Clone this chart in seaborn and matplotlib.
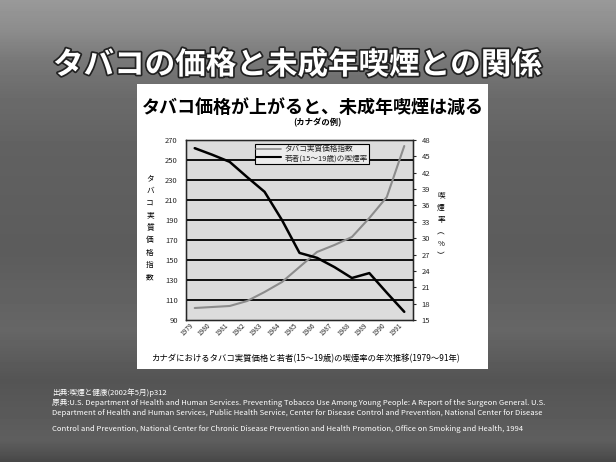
import numpy as np
import pandas as pd
import matplotlib
matplotlib.use("Agg")
import matplotlib.pyplot as plt
import matplotlib.patheffects as pe
from matplotlib.patches import Rectangle
from matplotlib.lines import Line2D
import seaborn as sns

# ---- data ----
years = ["1979", "1980", "1981", "1982", "1983", "1984", "1985",
         "1986", "1987", "1988", "1989", "1990", "1991"]
price_index = [102, 103, 104, 109, 118, 128, 143, 158, 165, 173, 192, 213, 264]
smoking_rate = [46.5, 45.3, 44.0, 41.2, 38.5, 33.3, 27.3, 26.4, 24.7, 22.7, 23.6, 20.0, 16.5]
left_ticks = [90, 110, 130, 150, 170, 190, 210, 230, 250, 270]
right_ticks = [15, 18, 21, 24, 27, 30, 33, 36, 39, 42, 45, 48]

slide_title = "タバコの価格と未成年喫煙との関係"
chart_title = "タバコ価格が上がると、未成年喫煙は減る"
chart_sub = "(カナダの例)"
legend_labels = ["タバコ実質価格指数", "若者(15～19歳)の喫煙率"]
left_label = "タバコ実質価格指数"
right_label = "喫煙率︵%︶"
caption = "カナダにおけるタバコ実質価格と若者(15～19歳)の喫煙率の年次推移(1979～91年)"
source_lines = [
    "出典:喫煙と健康(2002年5月)p312",
    "原典:U.S. Department of Health and Human Services. Preventing Tobacco Use Among Young People: A Report of the Surgeon General. U.S.",
    "Department of Health and Human Services, Public Health Service, Center for Disease Control and Prevention, National Center for Disease",
    "Control and Prevention, National Center for Chronic Disease Prevention and Health Promotion, Office on Smoking and Health, 1994",
]

df = pd.DataFrame({"x": np.arange(len(years)), "year": years,
                   "price": price_index, "rate": smoking_rate})

sns.set_style("white")
plt.rcParams["font.family"] = ["Noto Sans CJK JP", "DejaVu Sans"]

W, H = 616, 462
fig = plt.figure(figsize=(W / 100, H / 100), dpi=100)

def fx(px):
    return px / W

def fy(py):
    return 1 - py / H

# background gradient
bg = fig.add_axes([0, 0, 1, 1], zorder=-10)
stops_y = [0, 30, 60, 95, 150, 250, 330, 380, 440, 462]
stops_v = [0.60, 0.55, 0.47, 0.42, 0.38, 0.36, 0.40, 0.33, 0.37, 0.28]
col = np.interp(np.arange(H), stops_y, stops_v)
img = np.repeat(col[:, None], W, axis=1)
bg.imshow(img, cmap="gray", vmin=0, vmax=1, aspect="auto", extent=[0, W, H, 0])
bg.set_axis_off()

# white panel
fig.patches.append(Rectangle((fx(137), fy(369)), fx(488) - fx(137), fy(84) - fy(369),
                             transform=fig.transFigure, facecolor="white",
                             edgecolor="none", zorder=-5))

# slide title
fig.text(fx(297), fy(65), slide_title, ha="center", va="center", fontsize=22,
         fontweight="bold", color="white",
         path_effects=[pe.withStroke(linewidth=2.5, foreground="#222222")])

# chart titles
fig.text(fx(313), fy(107), chart_title, ha="center", va="center", fontsize=13,
         fontweight="bold", color="black")
fig.text(fx(317), fy(123), chart_sub, ha="center", va="center", fontsize=6,
         fontweight="bold", color="black")

# plot
ax = fig.add_axes([fx(186), fy(320), fx(413) - fx(186), fy(140) - fy(320)])
ax.set_facecolor("#dcdcdc")
sns.lineplot(data=df, x="x", y="price", ax=ax, color="#8c8c8c", linewidth=1.5)
ax.set_ylim(90, 270)
ax.set_xlim(-0.5, len(years) - 0.5)
ax.set_yticks(left_ticks)
ax.set_yticklabels([str(t) for t in left_ticks], fontsize=5.5)
ax.set_xticks(np.arange(len(years)))
ax.set_xticklabels(years, rotation=45, ha="right", fontsize=4.8)
ax.set_xlabel("")
ax.set_ylabel("")
for t in left_ticks[1:-1]:
    ax.axhline(t, color="black", linewidth=1.3, zorder=0.5)
for s in ax.spines.values():
    s.set_color("black")
    s.set_linewidth(1.0)
ax.tick_params(axis="y", length=0, pad=6)
ax.tick_params(axis="x", length=2, pad=1, direction="in")

ax2 = ax.twinx()
sns.lineplot(data=df, x="x", y="rate", ax=ax2, color="black", linewidth=1.8)
ax2.set_ylim(15, 48)
ax2.set_yticks(right_ticks)
ax2.set_yticklabels([str(t) for t in right_ticks], fontsize=5.5)
ax2.tick_params(axis="y", length=2, pad=4)
ax2.set_ylabel("")
ax2.set_xlim(-0.5, len(years) - 0.5)

handles = [Line2D([], [], color="#8c8c8c", linewidth=1.2),
           Line2D([], [], color="black", linewidth=1.5)]
leg = ax2.legend(handles, legend_labels, loc="upper left",
                 bbox_to_anchor=(0.286, 1.0), fontsize=5.5, frameon=True,
                 fancybox=False, framealpha=1, handlelength=3.2,
                 borderpad=0.2, labelspacing=0.1, handletextpad=0.5)
leg.get_frame().set_edgecolor("black")
leg.get_frame().set_facecolor("#ececec")
leg.get_frame().set_linewidth(0.8)

# axis labels (vertical stacked)
fig.text(fx(150), fy(228), "\n".join(left_label), ha="center", va="center",
         fontsize=5.5, linespacing=1.75, color="black")
fig.text(fx(441), fy(226), "\n".join(right_label), ha="center", va="center",
         fontsize=5.5, linespacing=1.7, color="black")

# caption
fig.text(fx(305), fy(359), caption, ha="center", va="center", fontsize=6,
         color="black")

# source text
for py, line in zip([393, 403, 413, 429], source_lines):
    fig.text(fx(52), fy(py), line, ha="left", va="center", fontsize=5.5,
             color="white")

fig.savefig("out.png", dpi=100)
